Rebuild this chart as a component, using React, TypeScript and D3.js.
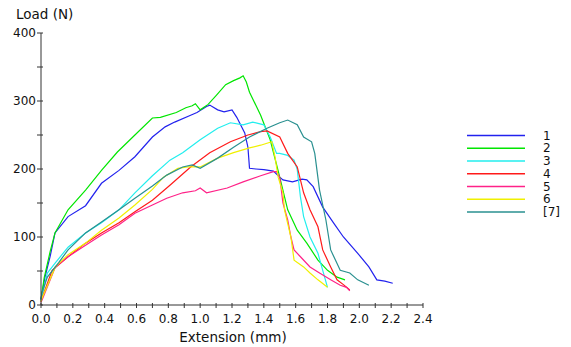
import React from 'react';
import * as d3 from 'd3';

// extension (mm) / load (N)
const ext1 = [0, 0.025, 0.057, 0.088, 0.17, 0.28, 0.38, 0.49, 0.59, 0.7, 0.78, 0.84, 0.94, 0.98, 1.04, 1.06, 1.11, 1.15, 1.2, 1.23, 1.28, 1.3, 1.31, 1.35, 1.4, 1.46, 1.5, 1.52, 1.58, 1.64, 1.67, 1.71, 1.77, 1.84, 1.9, 1.99, 2.06, 2.11, 2.16, 2.21];
const load1 = [8, 41, 71, 106, 130, 146, 179, 198, 218, 247, 262, 269, 279, 283, 292, 294, 287, 284, 287, 276, 253, 232, 201, 200, 199, 197, 188, 184, 181, 185, 184, 174, 144, 120, 100, 76, 56, 37, 35, 32];

const ext2 = [0, 0.02, 0.057, 0.088, 0.17, 0.28, 0.38, 0.48, 0.59, 0.7, 0.75, 0.85, 0.91, 0.95, 0.97, 1.0, 1.05, 1.1, 1.16, 1.21, 1.25, 1.27, 1.29, 1.31, 1.38, 1.44, 1.5, 1.55, 1.61, 1.67, 1.74, 1.8, 1.86, 1.91];
const load2 = [8, 40, 78, 106, 140, 169, 198, 225, 250, 275, 276, 283, 290, 293, 296, 287, 295, 308, 324, 330, 334, 337, 328, 313, 279, 243, 188, 140, 110, 91, 66, 51, 41, 37];

const ext3 = [0, 0.006, 0.04, 0.09, 0.17, 0.28, 0.38, 0.49, 0.59, 0.7, 0.81, 0.89, 1.0, 1.11, 1.19, 1.27, 1.33, 1.4, 1.44, 1.48, 1.5, 1.55, 1.59, 1.61, 1.63, 1.65, 1.69, 1.74, 1.77, 1.8];
const load3 = [6, 12, 47, 62, 85, 106, 121, 140, 165, 190, 213, 224, 243, 260, 268, 265, 269, 265, 247, 223, 223, 220, 213, 199, 159, 130, 100, 76, 51, 26];

const ext4 = [0, 0.006, 0.07, 0.17, 0.28, 0.38, 0.49, 0.59, 0.7, 0.81, 0.94, 1.06, 1.19, 1.3, 1.38, 1.42, 1.5, 1.55, 1.61, 1.65, 1.69, 1.74, 1.77, 1.82, 1.86, 1.9, 1.94];
const load4 = [5, 10, 51, 71, 91, 106, 121, 137, 154, 176, 203, 224, 240, 250, 255, 256, 247, 223, 203, 165, 140, 115, 81, 56, 37, 30, 22];

const ext5 = [0, 0.006, 0.09, 0.17, 0.28, 0.38, 0.49, 0.59, 0.7, 0.79, 0.89, 0.97, 1.0, 1.04, 1.17, 1.27, 1.38, 1.46, 1.48, 1.5, 1.52, 1.55, 1.57, 1.59, 1.63, 1.69, 1.75, 1.82, 1.88, 1.92, 1.94];
const load5 = [4, 7, 56, 71, 88, 103, 118, 135, 147, 157, 165, 168, 172, 165, 172, 181, 190, 196, 196, 188, 150, 125, 100, 81, 71, 56, 47, 37, 29, 26, 21];

const ext6 = [0, 0.006, 0.09, 0.17, 0.28, 0.38, 0.49, 0.59, 0.7, 0.77, 0.86, 0.92, 1.0, 1.11, 1.21, 1.31, 1.38, 1.45, 1.47, 1.49, 1.52, 1.53, 1.57, 1.59, 1.65, 1.69, 1.74, 1.8];
const load6 = [5, 10, 56, 74, 91, 110, 128, 147, 170, 188, 201, 203, 203, 216, 224, 231, 235, 240, 218, 188, 165, 140, 100, 66, 56, 47, 37, 26];

const ext7 = [0, 0.006, 0.04, 0.11, 0.17, 0.28, 0.38, 0.49, 0.59, 0.7, 0.79, 0.89, 0.95, 1.0, 1.11, 1.21, 1.31, 1.42, 1.5, 1.55, 1.61, 1.65, 1.7, 1.72, 1.75, 1.79, 1.82, 1.88, 1.94, 1.99, 2.06];
const load7 = [8, 18, 41, 62, 81, 106, 122, 140, 157, 175, 191, 203, 206, 201, 216, 232, 247, 260, 268, 272, 265, 247, 240, 223, 169, 125, 81, 51, 47, 37, 29];

const seriesNames = ['1', '2', '3', '4', '5', '6', '[7]'];
const seriesColors = ['#2222ee', '#00e600', '#22eeee', '#ff1a1a', '#ff2288', '#f0f000', '#2a9090'];
const seriesExt = [ext1, ext2, ext3, ext4, ext5, ext6, ext7];
const seriesLoad = [load1, load2, load3, load4, load5, load6, load7];

const xTicks = [0, 0.2, 0.4, 0.6, 0.8, 1.0, 1.2, 1.4, 1.6, 1.8, 2.0, 2.2, 2.4];
const yTicks = [0, 100, 200, 300, 400];

export default function App() {
  const width = 571;
  const height = 347;
  const x = d3.scaleLinear().domain([0, 2.4]).range([41, 423]);
  const y = d3.scaleLinear().domain([0, 400]).range([305, 33]);
  const line = d3.line<[number, number]>().x(d => x(d[0])).y(d => y(d[1]));
  const font = 'DejaVu Sans, Verdana, sans-serif';

  const minorX = d3.range(0, 25).map(i => i / 10);
  const minorY = d3.range(0, 9).map(i => i * 50);

  return (
    <svg width={width} height={height} style={{ position: 'absolute', left: 0, top: 0 }}>
      <rect width={width} height={height} fill="#fff" />
      {seriesNames.map((n, i) => (
        <path
          key={n}
          d={line(seriesExt[i].map((e, j) => [e, seriesLoad[i][j]] as [number, number])) || ''}
          fill="none"
          stroke={seriesColors[i]}
          strokeWidth={1.2}
        />
      ))}
      {/* axes */}
      <line x1={x(0)} x2={x(0)} y1={y(0)} y2={y(400)} stroke="#333" strokeWidth={1} />
      <line x1={x(0)} x2={x(2.4)} y1={y(0)} y2={y(0)} stroke="#333" strokeWidth={1} />
      {minorY.map(v => (
        <line key={'my' + v} x1={x(0) - 4} x2={x(0) + 2} y1={y(v)} y2={y(v)} stroke="#333" />
      ))}
      {minorX.map(v => (
        <line key={'mx' + v} x1={x(v)} x2={x(v)} y1={y(0) - 2} y2={y(0) + 3} stroke="#333" />
      ))}
      {yTicks.map(v => (
        <text key={'ty' + v} x={36} y={y(v)} dy="0.35em" textAnchor="end" fontFamily={font} fontSize={12} fill="#111">
          {v}
        </text>
      ))}
      {xTicks.map(v => (
        <text key={'tx' + v} x={x(v)} y={323} textAnchor="middle" fontFamily={font} fontSize={12} fill="#111">
          {v.toFixed(1)}
        </text>
      ))}
      <text x={16} y={19} fontFamily={font} fontSize={13.5} fill="#111">Load (N)</text>
      <text x={233} y={342} textAnchor="middle" fontFamily={font} fontSize={13.5} fill="#111">Extension (mm)</text>
      {/* legend */}
      {seriesNames.map((n, i) => (
        <g key={'lg' + n}>
          <line x1={467} x2={525} y1={135.5 + i * 12.75} y2={135.5 + i * 12.75} stroke={seriesColors[i]} strokeWidth={1.3} />
          <text x={543} y={135.5 + i * 12.75} dy="0.35em" fontFamily={font} fontSize={12} fill="#111">{n}</text>
        </g>
      ))}
    </svg>
  );
}
